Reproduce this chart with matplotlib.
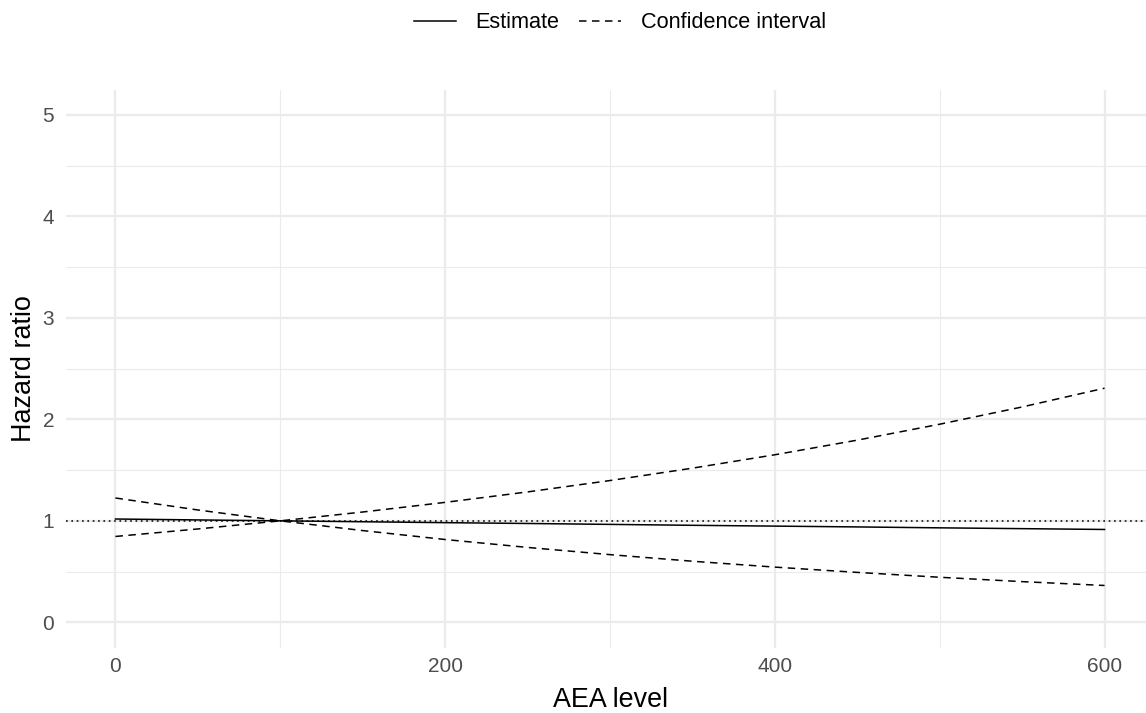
import matplotlib
matplotlib.use("Agg")
import matplotlib.pyplot as plt
from matplotlib.lines import Line2D

plt.rcParams['font.family'] = ['Liberation Sans', 'DejaVu Sans']

aea_level = [0, 50, 100, 150, 200, 250, 300, 350, 400, 450, 500, 550, 600]
estimate = [1.018, 1.009, 1.000, 0.991, 0.982, 0.974, 0.965, 0.956, 0.948, 0.940, 0.931, 0.923, 0.915]
ci_upper = [1.225, 1.107, 1.000, 1.087, 1.182, 1.285, 1.397, 1.519, 1.651, 1.795, 1.952, 2.122, 2.307]
ci_lower = [0.846, 0.920, 1.000, 0.904, 0.816, 0.738, 0.667, 0.602, 0.544, 0.492, 0.444, 0.401, 0.363]
reference_hr = 1.0

x_ticks = [0, 200, 400, 600]
y_ticks = [0, 1, 2, 3, 4, 5]

W, H = 1146, 713
fig = plt.figure(figsize=(W / 100, H / 100), dpi=100)
L, R, T, B = 66, 1154, 89.5, 647.7
ax = fig.add_axes([L / W, 1 - B / H, (R - L) / W, (B - T) / H])

grid_c = '#EBEBEB'
ax.set_xlim(-30, 630)
ax.set_ylim(-0.25, 5.25)
ax.set_xticks(x_ticks)
ax.set_yticks(y_ticks)
ax.set_xticks([100, 300, 500], minor=True)
ax.set_yticks([0.5, 1.5, 2.5, 3.5, 4.5], minor=True)
ax.grid(which='major', color=grid_c, linewidth=1.6)
ax.grid(which='minor', color=grid_c, linewidth=0.8)
ax.set_axisbelow(True)
for s in ax.spines.values():
    s.set_visible(False)
ax.tick_params(which='both', length=0)
ax.tick_params(axis='both', labelsize=15, labelcolor='#4D4D4D')
ax.tick_params(axis='x', pad=7)
ax.tick_params(axis='y', pad=8.5)

lw = 1.1
ax.axhline(reference_hr, color='black', linewidth=lw, dashes=(1.1, 2.4))
ax.plot(aea_level, estimate, color='black', linewidth=lw)
ax.plot(aea_level, ci_upper, color='black', linewidth=lw, dashes=(4.9, 3.6))
ax.plot(aea_level, ci_lower, color='black', linewidth=lw, dashes=(4.9, 3.6))

fig.text(610.5 / W, 1 - 707 / H, 'AEA level', fontsize=19.4,
         ha='center', va='baseline')
fig.text(31 / W, 1 - 368.6 / H, 'Hazard ratio', fontsize=19.4, rotation=90,
         rotation_mode='anchor', ha='center', va='baseline')

handles = [Line2D([], [], color='black', linewidth=lw),
           Line2D([], [], color='black', linewidth=lw, dashes=(4.9, 3.6))]
fig.legend(handles, ['Estimate', 'Confidence interval'], loc='center',
           bbox_to_anchor=(620 / W, 1 - 23 / H), ncol=2, frameon=False,
           fontsize=15.6, handlelength=1.94, handletextpad=0.92,
           columnspacing=0.92)

fig.savefig('out.png', dpi=100)
